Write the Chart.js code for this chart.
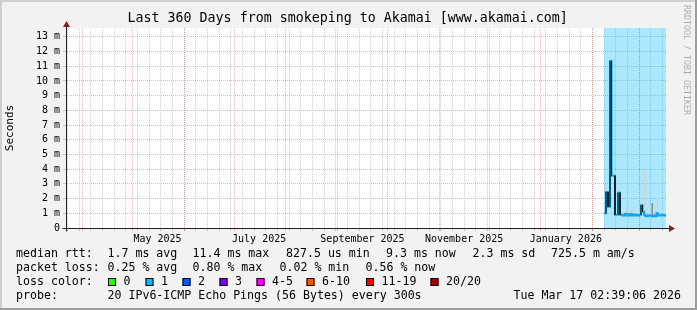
<!DOCTYPE html>
<html>
<head>
<meta charset="utf-8">
<title>Last 360 Days from smokeping to Akamai</title>
<script src="https://cdn.jsdelivr.net/npm/chart.js@4.4.1/dist/chart.umd.min.js"></script>
<style>
  html, body { margin: 0; padding: 0; background: #f2f2f2; }
  #wrap { width: 697px; height: 310px; }
</style>
</head>
<body>
<div id="wrap"><canvas id="smoke" width="697" height="310"></canvas></div>
<script>
// graph ends Tue Mar 17 02:39:06 2026 and spans 360 days; x = days since start
const DAY = 86400000;
const endMs = Date.UTC(2026, 2, 17, 2, 39, 6);
const spanDays = 360;
const startMs = endMs - spanDays * DAY;
const dayOf = (y, m, d) => (Date.UTC(y, m, d) - startMs) / DAY;

// samples (days since start, ms)
const sampleDay = [322.8, 324.0, 325.2, 326.4, 327.3, 329.4, 331.2, 332.4, 333.9, 335.4,
                   336.9, 338.4, 339.6, 340.8, 342.3, 343.8, 345.0, 345.9, 346.8, 347.7,
                   349.2, 351.3, 352.2, 353.4, 354.3, 355.2, 357.0, 358.8, 360.0];
const medianRtt = [1.0, 2.45, 1.45, 11.35, 3.55, 0.9, 2.4, 0.9, 0.85, 0.95,
                   0.85, 0.95, 0.85, 0.9, 0.85, 0.9, 1.55, 1.1, 0.9, 0.8,
                   0.85, 0.8, 0.85, 0.8, 1.0, 0.85, 0.9, 0.85, 0.85];
const smokeHigh = [1.1, 2.9, 1.55, 11.6, 3.85, 1.0, 2.55, 1.0, 1.05, 1.15,
                   1.1, 1.2, 1.05, 1.1, 1.0, 1.1, 1.75, 1.3, 3.9, 1.0,
                   1.0, 1.7, 1.0, 1.0, 2.05, 1.0, 1.05, 1.0, 1.0];
const smokeMid  = [1.0, 2.45, 1.45, 11.35, 3.55, 0.9, 2.4, 0.9, 0.85, 0.95,
                   0.85, 0.95, 0.85, 0.9, 0.85, 0.9, 1.55, 1.1, 0.9, 0.8,
                   0.85, 1.7, 0.85, 0.8, 1.0, 0.85, 0.9, 0.85, 0.85];

// loss background bands (days since start)
const lossFrom = [322.8];
const lossTo = [360];

// x labels (centred on the 16th of the month)
const labelYearMonth = [[2025, 4], [2025, 6], [2025, 8], [2025, 10], [2026, 0]];
const labelText = ['May 2025', 'July 2025', 'September 2025', 'November 2025', 'January 2026'];

const yMax = 13.6;
const yMajor = [0, 1, 2, 3, 4, 5, 6, 7, 8, 9, 10, 11, 12, 13];

// legend
const lossColors = ['#26ff00', '#00b8ff', '#0059ff', '#7e00ff', '#ff00ff', '#ff5500', '#ff0000', '#a10000'];
const lossLabels = ['0', '1', '2', '3', '4-5', '6-10', '11-19', '20/20'];
const swatchX = [108, 145.5, 182.5, 219.5, 256.5, 306.5, 366, 430.5];
const medianStats = ['1.7 ms avg', '11.4 ms max', '827.5 us min', '9.3 ms now', '2.3 ms sd', '725.5 m am/s'];
const medianStatsX = [107.5, 192.5, 286, 386, 472.5, 551];
const lossStats = ['0.25 % avg', '0.80 % max', '0.02 % min', '0.56 % now'];
const lossStatsX = [107.5, 192.5, 279.5, 365.5];
const titleText = 'Last 360 Days from smokeping to Akamai [www.akamai.com]';

const MONO = 'DejaVu Sans Mono';
const MGRID = 'rgba(222,80,80,0.42)';
const GRID = 'rgba(143,143,143,0.42)';

// x ticks: weekly (Sunday) minor lines, month start major lines, mid-month labels
const xTicks = [];
for (let d = dayOf(2025, 2, 23); d <= spanDays; d += 7) xTicks.push({ value: d, kind: 'minor' });
for (let i = 0; i < 12; i++) {
  const d = dayOf(2025, 3 + i, 1);
  if (d > 0 && d < spanDays) xTicks.push({ value: d, kind: 'major' });
}
labelYearMonth.forEach(([y, m], i) => xTicks.push({ value: dayOf(y, m, 16), kind: 'label', text: labelText[i] }));
xTicks.sort((a, b) => a.value - b.value);

const yTicks = [];
yMajor.forEach(v => { yTicks.push({ value: v }); if (v + 0.5 < yMax) yTicks.push({ value: v + 0.5 }); });

const medianPts = sampleDay.map((d, i) => ({ x: d, y: medianRtt[i] }));
const jumpPts = [];
for (let i = 1; i < sampleDay.length; i++) {
  if (Math.abs(medianRtt[i] - medianRtt[i - 1]) > 0.3) {
    jumpPts.push({ x: sampleDay[i], y: medianRtt[i - 1] }, { x: sampleDay[i], y: medianRtt[i] }, { x: sampleDay[i], y: null });
  }
}
const lossPts = [];
lossFrom.forEach((f, i) => lossPts.push({ x: f, y: yMax }, { x: lossTo[i], y: yMax }, { x: lossTo[i], y: null }));

const rrdDecor = {
  id: 'rrdDecor',
  beforeDraw(chart) {
    const { ctx, chartArea: a } = chart;
    ctx.save();
    ctx.fillStyle = '#f2f2f2';
    ctx.fillRect(0, 0, chart.width, chart.height);
    ctx.fillStyle = '#ffffff';
    ctx.fillRect(a.left, a.top, a.right - a.left, a.bottom - a.top);
    ctx.restore();
  },
  afterDraw(chart) {
    const { ctx, chartArea: a } = chart;
    const W = chart.width, H = chart.height;
    ctx.save();
    // shaded frame
    ctx.fillStyle = '#cfcfcf';
    ctx.fillRect(0, 0, W, 2);
    ctx.fillRect(0, 0, 2, H);
    ctx.fillStyle = '#9e9e9e';
    ctx.fillRect(0, H - 2, W, 2);
    ctx.fillRect(W - 2, 0, 2, H);

    // axes with arrows
    const ox = Math.round(a.left) + 0.5, oy = Math.round(a.bottom) + 0.5;
    ctx.strokeStyle = '#1f1f1f';
    ctx.lineWidth = 1;
    ctx.beginPath();
    ctx.moveTo(ox - 4, oy); ctx.lineTo(a.right + 5, oy);
    ctx.moveTo(ox, oy + 3); ctx.lineTo(ox, a.top - 3);
    ctx.stroke();
    ctx.fillStyle = '#801f1f';
    ctx.beginPath();
    ctx.moveTo(a.right + 9, oy); ctx.lineTo(a.right + 3, oy - 3.5); ctx.lineTo(a.right + 3, oy + 3.5);
    ctx.closePath(); ctx.fill();
    ctx.beginPath();
    ctx.moveTo(ox, a.top - 7); ctx.lineTo(ox - 3.5, a.top - 1); ctx.lineTo(ox + 3.5, a.top - 1);
    ctx.closePath(); ctx.fill();

    // title
    ctx.fillStyle = '#000';
    ctx.textBaseline = 'middle';
    ctx.textAlign = 'center';
    ctx.font = '13.3px "' + MONO + '"';
    ctx.fillText(titleText, 347.7, 19);

    // legend text
    ctx.font = '11.6px "' + MONO + '"';
    ctx.textAlign = 'left';
    ctx.fillText('median rtt:', 16, 254);
    medianStats.forEach((t, i) => ctx.fillText(t, medianStatsX[i], 254));
    ctx.fillText('packet loss:', 16, 268);
    lossStats.forEach((t, i) => ctx.fillText(t, lossStatsX[i], 268));
    ctx.fillText('loss color:', 16, 282);
    lossLabels.forEach((t, i) => {
      const x = swatchX[i];
      ctx.fillStyle = lossColors[i];
      ctx.fillRect(x, 278, 8, 8);
      ctx.strokeStyle = '#000';
      ctx.strokeRect(x + 0.5, 278.5, 7, 7);
      ctx.fillStyle = '#000';
      ctx.fillText(t, x + 15.5, 282);
    });
    ctx.fillText('probe:', 16, 296);
    ctx.fillText('20 IPv6-ICMP Echo Pings (56 Bytes) every 300s', 107.5, 296);
    ctx.textAlign = 'right';
    ctx.fillText('Tue Mar 17 02:39:06 2026', 681, 296);

    // watermark
    ctx.translate(686, 5);
    ctx.rotate(Math.PI / 2);
    ctx.textAlign = 'left';
    ctx.fillStyle = 'rgba(0,0,0,0.3)';
    ctx.font = '8.3px "' + MONO + '"';
    ctx.fillText('RRDTOOL / TOBI OETIKER', 0, 0);
    ctx.restore();
  }
};

new Chart(document.getElementById('smoke'), {
  type: 'line',
  data: {
    datasets: [
      { // median jumps drawn in black
        data: jumpPts, order: 1, borderColor: '#111111', borderWidth: 1,
        pointRadius: 0, spanGaps: false, fill: false
      },
      { // median rtt
        data: medianPts, order: 2, stepped: true, borderColor: '#05a8ee', borderWidth: 2,
        pointRadius: 0, fill: false
      },
      { // darker smoke
        data: sampleDay.map((d, i) => ({ x: d, y: smokeMid[i] })), order: 3, stepped: true,
        borderWidth: 0, pointRadius: 0, backgroundColor: '#8c8c8c', fill: 1
      },
      { // light smoke
        data: sampleDay.map((d, i) => ({ x: d, y: smokeHigh[i] })), order: 4, stepped: true,
        borderWidth: 0, pointRadius: 0, backgroundColor: '#d2d2d2', fill: 1
      },
      { // loss background
        data: lossPts, order: 5, borderWidth: 0, pointRadius: 0, spanGaps: false,
        backgroundColor: 'rgba(0,184,255,0.33)', fill: 'origin'
      }
    ]
  },
  options: {
    responsive: false,
    animation: false,
    devicePixelRatio: 1,
    layout: { padding: { left: 0, right: 31, top: 28, bottom: 0 } },
    plugins: {
      legend: { display: false },
      tooltip: { enabled: false },
      title: { display: false }
    },
    scales: {
      x: {
        type: 'linear', min: 0, max: spanDays,
        afterBuildTicks: s => { s.ticks = xTicks.map(t => ({ ...t })); },
        afterFit: s => { s.height = 82; },
        ticks: {
          autoSkip: false, maxRotation: 0, padding: 2, color: '#000',
          font: { family: MONO, size: 10 },
          callback: (v, i, ticks) => ticks[i].text || ''
        },
        grid: {
          color: c => c.tick.kind === 'major' ? MGRID : (c.tick.kind === 'minor' ? GRID : 'rgba(0,0,0,0)'),
          tickLength: 3, lineWidth: 1
        },
        border: { color: '#1f1f1f', dash: [1, 1] }
      },
      y: {
        type: 'linear', min: 0, max: yMax,
        afterBuildTicks: s => { s.ticks = yTicks.map(t => ({ ...t })); },
        afterFit: s => { s.width = 66; },
        ticks: {
          padding: 3, color: '#000',
          font: { family: MONO, size: 10 },
          callback: v => Number.isInteger(v) ? (v === 0 ? '0' : v + ' m') : ''
        },
        grid: {
          color: c => Number.isInteger(c.tick.value) ? MGRID : GRID,
          tickLength: 3, lineWidth: 1
        },
        border: { color: '#1f1f1f', dash: [1, 1] },
        title: {
          display: true, text: 'Seconds', color: '#000',
          font: { family: MONO, size: 11 }, padding: { top: 4, bottom: 0 }
        }
      }
    }
  },
  plugins: [rrdDecor]
});
</script>
</body>
</html>
